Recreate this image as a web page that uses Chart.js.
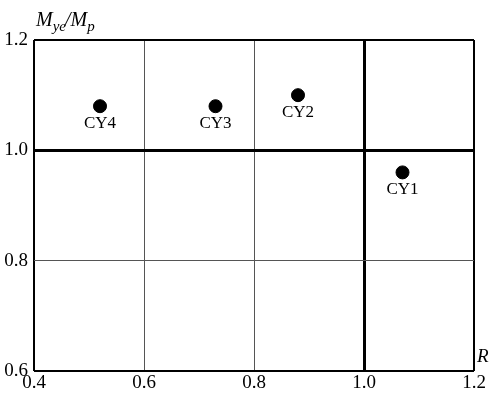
<!DOCTYPE html>
<html>
<head>
<meta charset="utf-8">
<script src="https://cdn.jsdelivr.net/npm/chart.js@4"></script>
<style>
  html, body { margin: 0; padding: 0; background: #fff; }
  #wrap { width: 489px; height: 394px; }
</style>
</head>
<body>
<div id="wrap"><canvas id="chart"></canvas></div>
<script>
// ==================== Data ====================
const names = ['CY1', 'CY2', 'CY3', 'CY4'];
const rValues = [1.07, 0.88, 0.73, 0.52];
const ratioValues = [0.96, 1.10, 1.08, 1.08];
const xTicks = [0.4, 0.6, 0.8, 1.0, 1.2];
const yTicks = [0.6, 0.8, 1.0, 1.2];

const serif = '"Liberation Serif", "Times New Roman", serif';

// grid style: thick at 1.0, black frame at the edges
function gridColor(ctx, lo, hi) {
    const v = ctx.tick ? ctx.tick.value : null;
    if (v === null) return '#555';
    if (Math.abs(v - 1.0) < 1e-6 || Math.abs(v - lo) < 1e-6 || Math.abs(v - hi) < 1e-6) return '#000';
    return '#555';
}
function gridWidth(ctx, lo, hi) {
    const v = ctx.tick ? ctx.tick.value : null;
    if (v === null) return 1;
    if (Math.abs(v - 1.0) < 1e-6) return 3;
    if (Math.abs(v - lo) < 1e-6 || Math.abs(v - hi) < 1e-6) return 2;
    return 1;
}

// ==================== Labels plugin ====================
const labelPlugin = {
    id: 'labels',
    afterDatasetsDraw(chart) {
        const c = chart.ctx;
        const meta = chart.getDatasetMeta(0);
        c.save();
        c.fillStyle = '#000';
        c.font = '17px ' + serif;
        c.textAlign = 'center';
        c.textBaseline = 'top';
        meta.data.forEach((pt, i) => {
            c.fillText(names[i], pt.x, pt.y + 9);
        });

        // y axis title: M_ye / M_p
        const area = chart.chartArea;
        let x = area.left + 2;
        const base = area.top - 14;
        c.textAlign = 'left';
        c.textBaseline = 'alphabetic';
        const parts = [
            ['M', 20, 0], ['ye', 15, 5], ['/', 20, 0], ['M', 20, 0], ['p', 15, 5]
        ];
        parts.forEach(p => {
            c.font = 'italic ' + p[1] + 'px ' + serif;
            c.fillText(p[0], x, base + p[2]);
            x += c.measureText(p[0]).width - (p[0] === 'ye' ? 1 : 0);
        });

        // x axis title: R
        c.font = 'italic 19px ' + serif;
        c.fillText('R', area.right + 3, area.bottom - 9);
        c.restore();
    }
};

// ==================== Chart ====================
const ctx = document.getElementById('chart').getContext('2d');
const chart = new Chart(ctx, {
    type: 'scatter',
    data: {
        datasets: [{
            data: rValues.map((r, i) => ({ x: r, y: ratioValues[i] })),
            backgroundColor: '#000',
            borderColor: '#000',
            pointRadius: 6.5,
            pointHoverRadius: 6.5
        }]
    },
    options: {
        responsive: true,
        maintainAspectRatio: false,
        animation: false,
        layout: { padding: { top: 40, right: 15, left: 0, bottom: 0 } },
        plugins: {
            legend: { display: false },
            tooltip: { enabled: false }
        },
        scales: {
            x: {
                type: 'linear',
                min: 0.4,
                max: 1.2,
                afterBuildTicks: s => { s.ticks = xTicks.map(v => ({ value: v })); },
                afterFit: s => { s.height = 23; },
                border: { display: false },
                grid: {
                    drawTicks: false,
                    color: c => gridColor(c, 0.4, 1.2),
                    lineWidth: c => gridWidth(c, 0.4, 1.2)
                },
                ticks: {
                    padding: 1,
                    color: '#000',
                    font: { family: serif, size: 19 },
                    callback: v => v.toFixed(1)
                }
            },
            y: {
                type: 'linear',
                min: 0.6,
                max: 1.2,
                afterBuildTicks: s => { s.ticks = yTicks.map(v => ({ value: v })); },
                afterFit: s => { s.width = 34; },
                border: { display: false },
                grid: {
                    drawTicks: false,
                    color: c => gridColor(c, 0.6, 1.2),
                    lineWidth: c => gridWidth(c, 0.6, 1.2)
                },
                ticks: {
                    padding: 6,
                    color: '#000',
                    font: { family: serif, size: 19 },
                    callback: v => v.toFixed(1)
                }
            }
        }
    },
    plugins: [labelPlugin]
});
</script>
</body>
</html>
